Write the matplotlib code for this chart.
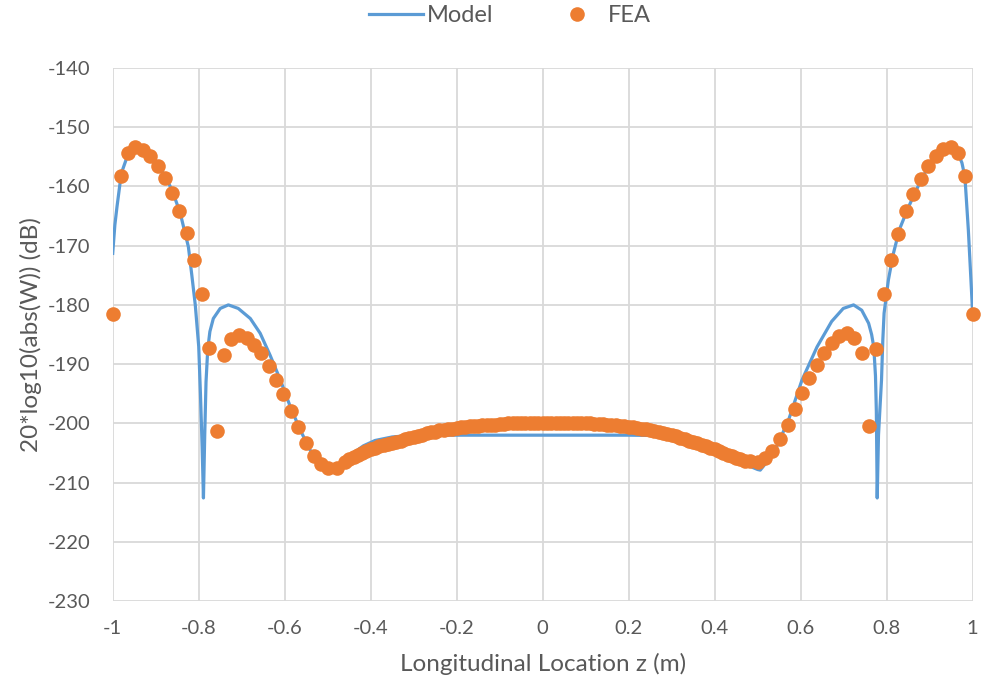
import matplotlib
matplotlib.use("Agg")
import matplotlib.pyplot as plt
from matplotlib.lines import Line2D

# Model curve
model_z = [-1.0, -0.995, -0.99, -0.98, -0.968, -0.948, -0.928, -0.905, -0.882,
           -0.862, -0.843, -0.824, -0.816, -0.808, -0.800, -0.796, -0.792, -0.789,
           -0.786, -0.783, -0.779, -0.774, -0.766, -0.75, -0.731, -0.708, -0.68,
           -0.657, -0.634, -0.61, -0.587, -0.564, -0.541, -0.518, -0.494, -0.463,
           -0.44, -0.417, -0.39, -0.35, -0.3, -0.2, -0.1, 0.0, 0.1, 0.2, 0.3,
           0.35, 0.4, 0.44, 0.47, 0.49, 0.5, 0.506, 0.537, 0.572, 0.603, 0.638,
           0.672, 0.699, 0.723, 0.742, 0.758, 0.765, 0.770, 0.774, 0.776, 0.778,
           0.781, 0.784, 0.788, 0.791, 0.794, 0.804, 0.815, 0.83, 0.85, 0.867,
           0.883, 0.9, 0.917, 0.933, 0.95, 0.965, 0.975, 0.982, 0.99, 0.996, 1.0]
model_db = [-171.3, -166.5, -163.4, -157.8, -155.3, -153.8, -154.1, -155.5, -157.8,
            -160.6, -164.5, -170.2, -175.0, -180.0, -187.0, -195.0, -204.0, -212.6,
            -202.0, -193.0, -187.5, -184.5, -182.3, -180.6, -180.0, -180.6, -182.3,
            -184.8, -188.5, -192.7, -197.2, -201.1, -204.5, -206.8, -207.9, -206.4,
            -205.0, -203.8, -202.9, -202.3, -202.0, -202.0, -202.0, -202.0, -202.0, -202.0, -202.1,
            -202.6, -203.7, -205.2, -206.7, -207.5, -207.8, -207.9, -205.1, -199.4, -192.7, -187.1,
            -182.8, -180.6, -180.0, -180.9, -183.1, -185.0, -187.1, -192.0, -198.0, -212.6,
            -202.0, -198.0, -192.7, -186.0, -181.4, -175.8, -171.5, -167.2, -163.6, -160.9,
            -158.5, -156.3, -154.7, -153.7, -153.5, -154.3, -156.0, -158.4, -167.4, -175.8, -181.5]

# FEA results
fea_z = [-1.0, -0.981, -0.965, -0.948, -0.930, -0.913, -0.895, -0.878, -0.861,
         -0.845, -0.828, -0.810, -0.792, -0.775, -0.758, -0.741, -0.725, -0.707,
         -0.688, -0.671, -0.655, -0.637, -0.620, -0.603, -0.585, -0.568, -0.551,
         -0.533, -0.516, -0.499, -0.479, -0.460,
         -0.45, -0.44, -0.43, -0.42, -0.41, -0.40, -0.39, -0.38, -0.37, -0.36,
         -0.35, -0.34, -0.33, -0.32, -0.31, -0.30, -0.29, -0.28, -0.27, -0.26,
         -0.25, -0.24, -0.23, -0.22, -0.21, -0.20, -0.19, -0.18, -0.17, -0.16,
         -0.15, -0.14, -0.13, -0.12, -0.11, -0.10, -0.09, -0.08, -0.07, -0.06,
         -0.05, -0.04, -0.03, -0.02, -0.01, 0.00, 0.01, 0.02, 0.03, 0.04,
         0.05, 0.06, 0.07, 0.08, 0.09, 0.10, 0.11, 0.12, 0.13, 0.14,
         0.15, 0.16, 0.17, 0.18, 0.19, 0.20, 0.21, 0.22, 0.23, 0.24,
         0.25, 0.26, 0.27, 0.28, 0.29, 0.30, 0.31, 0.32, 0.33, 0.34,
         0.35, 0.36, 0.37, 0.38, 0.39, 0.40, 0.41, 0.42, 0.43, 0.44,
         0.45, 0.46, 0.47,
         0.483, 0.501, 0.517, 0.534, 0.552, 0.570, 0.587, 0.604, 0.620, 0.638,
         0.655, 0.672, 0.689, 0.707, 0.724, 0.742, 0.758, 0.775, 0.794, 0.810,
         0.827, 0.844, 0.862, 0.879, 0.897, 0.914, 0.932, 0.949, 0.966, 0.982, 1.0]
fea_db = [-181.6, -158.2, -154.4, -153.3, -153.8, -154.8, -156.5, -158.6, -161.1,
          -164.2, -167.9, -172.4, -178.1, -187.2, -201.3, -188.4, -185.7, -185.0,
          -185.6, -186.7, -188.2, -190.3, -192.6, -195.1, -197.9, -200.7, -203.4,
          -205.5, -206.9, -207.5, -207.5, -206.6,
          -206.1, -205.7, -205.3, -205.0, -204.6, -204.3, -204.1, -203.9, -203.7, -203.5,
          -203.3, -203.1, -202.9, -202.7, -202.5, -202.3, -202.1, -201.9, -201.7, -201.5,
          -201.4, -201.2, -201.1, -201.0, -200.9, -200.8, -200.7, -200.6, -200.5, -200.4,
          -200.4, -200.3, -200.3, -200.2, -200.2, -200.1, -200.1, -200.0, -200.0, -200.0,
          -199.9, -199.9, -199.9, -199.9, -199.9, -199.9, -199.9, -199.9, -199.9, -199.9,
          -199.9, -199.9, -199.9, -200.0, -200.0, -200.0, -200.0, -200.1, -200.1, -200.1,
          -200.2, -200.2, -200.3, -200.4, -200.5, -200.6, -200.7, -200.8, -200.9, -201.0,
          -201.1, -201.3, -201.4, -201.6, -201.8, -202.0, -202.2, -202.4, -202.6, -202.9,
          -203.1, -203.4, -203.6, -203.9, -204.2, -204.4, -204.7, -205.0, -205.3, -205.6,
          -205.9, -206.1, -206.3,
          -206.3, -206.5, -205.8, -204.7, -202.7, -200.2, -197.5, -194.8, -192.4, -190.2,
          -188.1, -186.5, -185.3, -184.7, -185.6, -188.1, -200.5, -187.4, -178.2, -172.4,
          -168.0, -164.2, -161.2, -158.7, -156.5, -154.9, -153.7, -153.4, -154.4, -158.2, -181.6]

x_ticks = [-1, -0.8, -0.6, -0.4, -0.2, 0, 0.2, 0.4, 0.6, 0.8, 1]
x_tick_labels = ["-1", "-0.8", "-0.6", "-0.4", "-0.2", "0", "0.2", "0.4", "0.6", "0.8", "1"]
y_ticks = [-230, -220, -210, -200, -190, -180, -170, -160, -150, -140]
y_tick_labels = [str(v) for v in y_ticks]

plt.rcParams["font.family"] = ["Lato", "DejaVu Sans"]
plt.rcParams["axes.unicode_minus"] = False
text_color = "#595959"
grid_color = "#d9d9d9"
blue = "#5b9bd5"
orange = "#ed7d31"

fig = plt.figure(figsize=(9.81, 6.87), dpi=100)
ax = fig.add_axes([0.1149, 0.1252, 0.8766, 0.7758])

ax.plot(model_z, model_db, color=blue, lw=2.3, solid_joinstyle="round", zorder=3)
ax.plot(fea_z, fea_db, ls="none", marker="o", ms=10.5, color=orange,
        markeredgewidth=0, zorder=4, clip_on=False)

ax.set_xlim(-1, 1)
ax.set_ylim(-230, -140)
ax.set_xticks(x_ticks)
ax.set_xticklabels(x_tick_labels)
ax.set_yticks(y_ticks)
ax.set_yticklabels(y_tick_labels)
ax.grid(True, color=grid_color, lw=1.3)
ax.set_axisbelow(True)
for s in ax.spines.values():
    s.set_visible(False)
ax.tick_params(length=0, labelsize=14.5, labelcolor=text_color)
ax.tick_params(axis="x", pad=14)
ax.tick_params(axis="y", pad=16)

ax.set_xlabel("Longitudinal Location z (m)", fontsize=17.5, color=text_color, labelpad=11)
ax.set_ylabel("20*log10(abs(W)) (dB)", fontsize=17.5, color=text_color, labelpad=4)

handles = [Line2D([], [], color=blue, lw=2.3),
           Line2D([], [], ls="none", marker="o", ms=10.5, color=orange, markeredgewidth=0)]
fig.legend(handles, ["Model", "FEA"], loc="center", bbox_to_anchor=(0.52, 0.977),
           ncol=2, frameon=False, fontsize=17, labelcolor=text_color,
           handlelength=2.3, handletextpad=0.15, columnspacing=2.4)

fig.savefig("out.png", dpi=100)
